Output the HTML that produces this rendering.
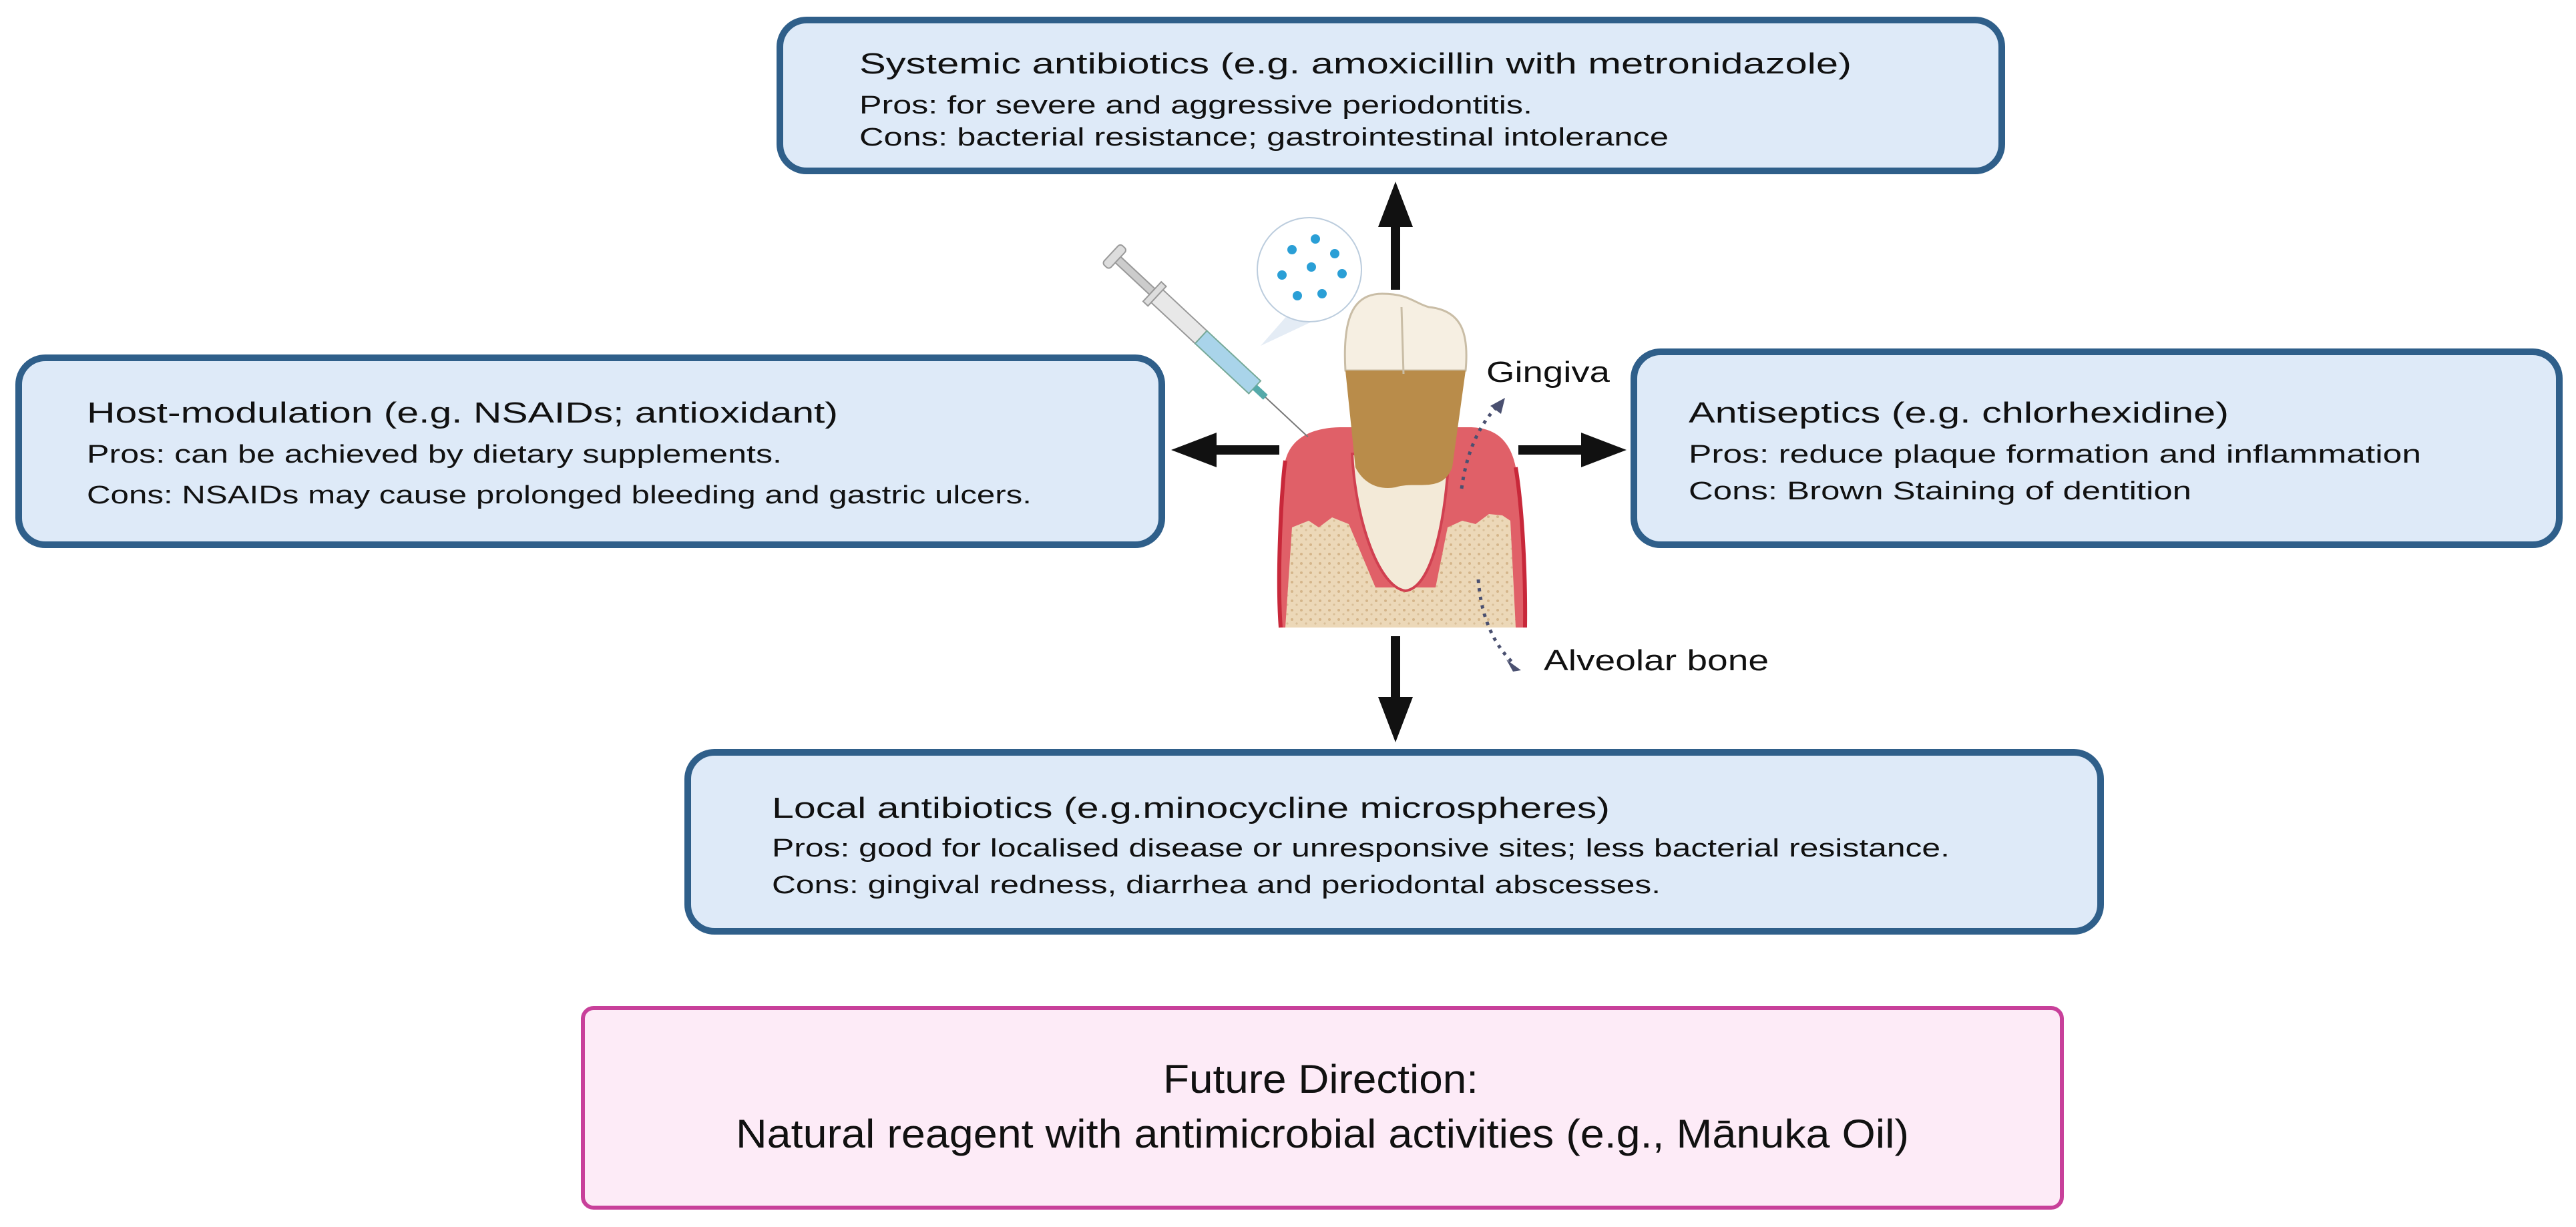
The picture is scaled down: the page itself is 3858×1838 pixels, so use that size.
<!DOCTYPE html>
<html><head><meta charset="utf-8"><style>
html,body{margin:0;padding:0;background:#fff;}
svg{display:block;}
text{font-family:"Liberation Sans",Arial,sans-serif;fill:#111;}
</style></head><body>
<svg width="3858" height="1838" viewBox="0 0 3858 1838" xmlns="http://www.w3.org/2000/svg">
<defs>
<linearGradient id="gumfade" x1="0" y1="0" x2="0" y2="1">
<stop offset="0.8" stop-color="#fff" stop-opacity="0"/>
<stop offset="1" stop-color="#fff" stop-opacity="1"/>
</linearGradient>
<pattern id="bone" width="14" height="14" patternUnits="userSpaceOnUse">
<rect width="14" height="14" fill="#ecd8b8"/>
<circle cx="3" cy="4" r="2" fill="#d4b58a"/>
<circle cx="10" cy="10" r="1.6" fill="#d9bf98"/>
</pattern>
</defs>

<!-- boxes -->
<rect x="1168" y="30" width="1830" height="226" rx="40" fill="#deeaf8" stroke="#2f5f8a" stroke-width="10"/>
<rect x="28" y="536" width="1712" height="280" rx="40" fill="#deeaf8" stroke="#2f5f8a" stroke-width="10"/>
<rect x="2447" y="527" width="1386" height="289" rx="40" fill="#deeaf8" stroke="#2f5f8a" stroke-width="10"/>
<rect x="1030" y="1127" width="2116" height="268" rx="40" fill="#deeaf8" stroke="#2f5f8a" stroke-width="10"/>
<rect x="873" y="1510" width="2215" height="299" rx="16" fill="#fdebf7" stroke="#c8409a" stroke-width="6"/>

<!-- top text -->
<text x="1287" y="110" font-size="44" textLength="1486" lengthAdjust="spacingAndGlyphs">Systemic antibiotics (e.g. amoxicillin with metronidazole)</text>
<text x="1287" y="170" font-size="38" textLength="1008" lengthAdjust="spacingAndGlyphs">Pros: for severe and aggressive periodontitis.</text>
<text x="1287" y="218" font-size="38" textLength="1212" lengthAdjust="spacingAndGlyphs">Cons: bacterial resistance; gastrointestinal intolerance</text>

<!-- left text -->
<text x="130" y="633" font-size="44" textLength="1125" lengthAdjust="spacingAndGlyphs">Host-modulation (e.g. NSAIDs; antioxidant)</text>
<text x="130" y="693" font-size="38" textLength="1041" lengthAdjust="spacingAndGlyphs">Pros: can be achieved by dietary supplements.</text>
<text x="130" y="754" font-size="38" textLength="1415" lengthAdjust="spacingAndGlyphs">Cons: NSAIDs may cause prolonged bleeding and gastric ulcers.</text>

<!-- right text -->
<text x="2529" y="633" font-size="44" textLength="809" lengthAdjust="spacingAndGlyphs">Antiseptics (e.g. chlorhexidine)</text>
<text x="2529" y="693" font-size="38" textLength="1097" lengthAdjust="spacingAndGlyphs">Pros: reduce plaque formation and inflammation</text>
<text x="2529" y="748" font-size="38" textLength="753" lengthAdjust="spacingAndGlyphs">Cons: Brown Staining of dentition</text>

<!-- bottom text -->
<text x="1156" y="1225" font-size="44" textLength="1255" lengthAdjust="spacingAndGlyphs">Local antibiotics (e.g.minocycline microspheres)</text>
<text x="1156" y="1283" font-size="38" textLength="1764" lengthAdjust="spacingAndGlyphs">Pros: good for localised disease or unresponsive sites; less bacterial resistance.</text>
<text x="1156" y="1338" font-size="38" textLength="1331" lengthAdjust="spacingAndGlyphs">Cons: gingival redness, diarrhea and periodontal abscesses.</text>

<!-- pink text -->
<text x="1742" y="1637" font-size="60" textLength="472" lengthAdjust="spacingAndGlyphs">Future Direction:</text>
<text x="1102" y="1719" font-size="60" textLength="1757" lengthAdjust="spacingAndGlyphs">Natural reagent with antimicrobial activities (e.g., Mānuka Oil)</text>

<!-- arrows -->
<g fill="#111">
<rect x="2083" y="330" width="14" height="104"/>
<polygon points="2090,272 2064,340 2116,340"/>
<rect x="1812" y="667" width="104" height="14"/>
<polygon points="1754,674 1822,648 1822,700"/>
<rect x="2274" y="667" width="100" height="14"/>
<polygon points="2436,674 2368,648 2368,700"/>
<rect x="2083" y="953" width="14" height="100"/>
<polygon points="2090,1112 2064,1044 2116,1044"/>
</g>

<!-- tooth graphic -->
<g>
<path d="M1918,940 C1910,860 1918,720 1925,690 C1935,650 1975,640 2010,640 L2200,640 C2240,640 2262,660 2270,700 C2280,760 2285,860 2284,940 Z" fill="#e06068"/>
<path d="M1918,940 C1912,860 1920,720 1925,690" stroke="#c8283a" stroke-width="6" fill="none"/>
<path d="M2270,700 C2280,760 2285,860 2284,940" stroke="#c8283a" stroke-width="6" fill="none"/>
<path d="M1935,790 L1960,780 1975,790 1995,775 2020,785 L2060,880 L2150,880 L2168,790 2190,780 2210,785 2230,770 2250,772 2262,780 L2270,940 L1925,940 Z" fill="url(#bone)"/>
<path d="M2025,680 C2030,780 2065,880 2105,885 C2145,880 2165,780 2170,680 Z" fill="#f3ead8" stroke="#d04050" stroke-width="4"/>
<path d="M2015,555 C2010,470 2030,440 2070,440 C2110,440 2120,455 2140,460 C2190,465 2200,500 2195,555 Z" fill="#f6efe2" stroke="#c9bda6" stroke-width="3"/>
<path d="M2015,555 L2195,555 L2175,700 C2160,740 2120,720 2090,730 C2060,735 2040,720 2030,700 Z" fill="#b98c4a"/>
<path d="M2099,460 L2102,560" stroke="#c9bda6" stroke-width="3"/>
<rect x="1900" y="900" width="400" height="50" fill="url(#gumfade)"/>
</g>

<!-- syringe -->
<g transform="translate(1670,385) rotate(43)">
<rect x="-8" y="-20" width="14" height="40" rx="5" fill="#ddd" stroke="#999" stroke-width="2"/>
<rect x="6" y="-6" width="70" height="12" fill="#ccc" stroke="#999" stroke-width="2"/>
<rect x="76" y="-20" width="10" height="40" fill="#ddd" stroke="#999" stroke-width="2"/>
<rect x="86" y="-13" width="90" height="26" fill="#e8e8e8" stroke="#999" stroke-width="2"/>
<rect x="176" y="-13" width="110" height="26" fill="#a9d4ea" stroke="#7a9" stroke-width="2"/>
<rect x="286" y="-5" width="22" height="10" fill="#5aa" />
<line x1="308" y1="0" x2="395" y2="0" stroke="#777" stroke-width="2"/>
</g>

<!-- bubble -->
<polygon points="1888,518 1930,470 1990,470" fill="#e4ecf5"/>
<circle cx="1961" cy="404" r="78" fill="#fff" stroke="#bcd" stroke-width="2"/>
<g fill="#2a9fd6">
<circle cx="1970" cy="358" r="7"/><circle cx="1935" cy="374" r="7"/><circle cx="1999" cy="380" r="7"/>
<circle cx="1964" cy="400" r="7"/><circle cx="1920" cy="412" r="7"/><circle cx="2010" cy="410" r="7"/>
<circle cx="1943" cy="443" r="7"/><circle cx="1980" cy="440" r="7"/>
</g>

<!-- labels -->
<text x="2226" y="572" font-size="44" textLength="185" lengthAdjust="spacingAndGlyphs">Gingiva</text>
<text x="2312" y="1004" font-size="44" textLength="337" lengthAdjust="spacingAndGlyphs">Alveolar bone</text>
<path d="M2189,732 Q2200,650 2246,605" stroke="#4a5070" stroke-width="5" stroke-dasharray="5,8" fill="none"/>
<polygon points="2254,596 2232,608 2248,620" fill="#4a5070"/>
<path d="M2214,868 Q2220,950 2268,995" stroke="#4a5070" stroke-width="5" stroke-dasharray="5,8" fill="none"/>
<polygon points="2278,1004 2256,988 2266,1006" fill="#4a5070"/>
</svg>
</body></html>
